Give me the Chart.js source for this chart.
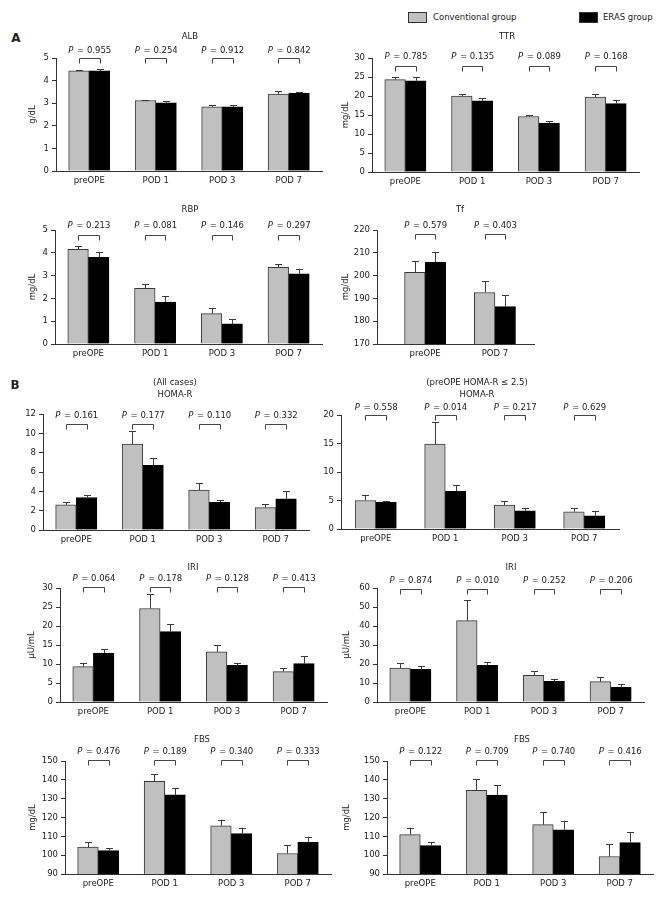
<!DOCTYPE html>
<html>
<head>
<meta charset="utf-8">
<script src="https://cdn.jsdelivr.net/npm/chart.js@4.4.1/dist/chart.umd.min.js"></script>
<style>
  body { margin: 0; background: #fff; }
  #page { position: relative; width: 668px; height: 900px; font-family: "DejaVu Sans", sans-serif; color: #222; }
  #page canvas { position: absolute; z-index: 1; }
  .txt { position: absolute; z-index: 2; transform: translate(-50%, -50%); white-space: nowrap; font-size: 8.5px; color: #222; }
  .tag { position: absolute; z-index: 2; transform: translate(-50%, -50%); font-size: 12px; font-weight: bold; }
  .key { position: absolute; width: 17px; height: 9px; border: 1px solid #333; }
  .keytxt { position: absolute; font-size: 8.5px; transform: translateY(-50%); white-space: nowrap; }
</style>
</head>
<body>
<div id="page">
  <div class="tag" style="left:16px;top:38px">A</div>
  <div class="tag" style="left:15px;top:385px">B</div>
  <div class="key" style="left:408px;top:12px;background:#c0c0c0"></div>
  <div class="keytxt" style="left:433px;top:17px">Conventional group</div>
  <div class="key" style="left:579px;top:12px;background:#000"></div>
  <div class="keytxt" style="left:603px;top:17px">ERAS group</div>
</div>
<script>
const timepoints = ['preOPE', 'POD 1', 'POD 3', 'POD 7'];
const tfTimepoints = ['preOPE', 'POD 7'];

// A: nutrition markers (mean, SE)
const albConv = [4.43, 3.12, 2.84, 3.40];
const albConvErr = [0.02, 0.03, 0.10, 0.12];
const albEras = [4.43, 3.02, 2.84, 3.45];
const albErasErr = [0.07, 0.07, 0.10, 0.05];
const albP = ['0.955', '0.254', '0.912', '0.842'];

const ttrConv = [24.3, 20.0, 14.6, 19.7];
const ttrConvErr = [0.6, 0.5, 0.5, 0.7];
const ttrEras = [24.0, 18.7, 12.9, 18.0];
const ttrErasErr = [0.9, 0.7, 0.6, 1.0];
const ttrP = ['0.785', '0.135', '0.089', '0.168'];

const rbpConv = [4.15, 2.44, 1.33, 3.36];
const rbpConvErr = [0.16, 0.20, 0.23, 0.17];
const rbpEras = [3.80, 1.84, 0.88, 3.08];
const rbpErasErr = [0.22, 0.28, 0.20, 0.19];
const rbpP = ['0.213', '0.081', '0.146', '0.297'];

const tfConv = [201.4, 192.6];
const tfConvErr = [4.9, 5.1];
const tfEras = [205.8, 186.4];
const tfErasErr = [4.4, 5.1];
const tfP = ['0.579', '0.403'];

// B: glucose metabolism, all cases / preOPE HOMA-R <= 2.5
const homaAllConv = [2.60, 8.90, 4.12, 2.32];
const homaAllConvErr = [0.27, 1.38, 0.72, 0.41];
const homaAllEras = [3.36, 6.68, 2.87, 3.22];
const homaAllErasErr = [0.27, 0.76, 0.24, 0.86];
const homaAllP = ['0.161', '0.177', '0.110', '0.332'];

const homaLowConv = [5.0, 14.9, 4.2, 3.03];
const homaLowConvErr = [0.9, 3.9, 0.64, 0.64];
const homaLowEras = [4.66, 6.6, 3.2, 2.33];
const homaLowErasErr = [0.34, 1.15, 0.47, 0.87];
const homaLowP = ['0.558', '0.014', '0.217', '0.629'];

const iriAllConv = [9.3, 24.6, 13.2, 8.0];
const iriAllConvErr = [1.05, 3.7, 1.9, 0.95];
const iriAllEras = [12.9, 18.5, 9.65, 10.1];
const iriAllErasErr = [1.1, 2.0, 0.7, 2.1];
const iriAllP = ['0.064', '0.178', '0.128', '0.413'];

const iriLowConv = [17.9, 42.8, 14.0, 10.7];
const iriLowConvErr = [2.8, 10.7, 2.1, 2.6];
const iriLowEras = [17.2, 19.3, 10.9, 7.7];
const iriLowErasErr = [1.9, 1.6, 1.0, 1.6];
const iriLowP = ['0.874', '0.010', '0.252', '0.206'];

const fbsAllConv = [104.3, 139.2, 115.6, 100.9];
const fbsAllConvErr = [2.5, 3.9, 3.3, 4.3];
const fbsAllEras = [102.4, 132.0, 111.4, 106.8];
const fbsAllErasErr = [1.4, 3.9, 3.1, 3.1];
const fbsAllP = ['0.476', '0.189', '0.340', '0.333'];

const fbsLowConv = [110.9, 134.4, 116.2, 99.3];
const fbsLowConvErr = [3.7, 5.8, 6.6, 6.5];
const fbsLowEras = [105.1, 131.9, 113.5, 106.7];
const fbsLowErasErr = [1.9, 5.1, 4.7, 5.6];
const fbsLowP = ['0.122', '0.709', '0.740', '0.416'];

const FONT = '"DejaVu Sans", sans-serif';
const FS = 8.5;
const INK = '#222';
const AXIS = '#333';

// box = plot area [left, top, right, bottom] on the page
const panels = [
  { title: [['ALB', 190, 36]], unit: 'g/dL', unitX: 33, cats: timepoints,
    conv: albConv, convErr: albConvErr, eras: albEras, erasErr: albErasErr, p: albP,
    yMin: 0, yMax: 5, yStep: 1, box: [56, 58, 322, 171], xRange: [-0.5, 3.5], pY: 51, brY: 58 },
  { title: [['TTR', 507, 36]], unit: 'mg/dL', unitX: 346, cats: timepoints,
    conv: ttrConv, convErr: ttrConvErr, eras: ttrEras, erasErr: ttrErasErr, p: ttrP,
    yMin: 0, yMax: 30, yStep: 5, box: [372, 58, 639, 172], xRange: [-0.5, 3.5], pY: 57, brY: 66 },
  { title: [['RBP', 190, 209]], unit: 'mg/dL', unitX: 33, cats: timepoints,
    conv: rbpConv, convErr: rbpConvErr, eras: rbpEras, erasErr: rbpErasErr, p: rbpP,
    yMin: 0, yMax: 5, yStep: 1, box: [55, 230, 322, 344], xRange: [-0.5, 3.5], pY: 226, brY: 235 },
  { title: [['Tf', 460, 209]], unit: 'mg/dL', unitX: 346, cats: tfTimepoints,
    conv: tfConv, convErr: tfConvErr, eras: tfEras, erasErr: tfErasErr, p: tfP,
    yMin: 170, yMax: 220, yStep: 10, box: [377, 230, 534, 344], xRange: [-0.69, 1.56], pY: 226, brY: 234 },
  { title: [['(All cases)', 175, 382], ['HOMA-R', 175, 394]], unit: '', cats: timepoints,
    conv: homaAllConv, convErr: homaAllConvErr, eras: homaAllEras, erasErr: homaAllErasErr, p: homaAllP,
    yMin: 0, yMax: 12, yStep: 2, box: [43, 414, 309, 530], xRange: [-0.5, 3.5], pY: 416, brY: 424 },
  { title: [['(preOPE HOMA-R \u2264 2.5)', 477, 382], ['HOMA-R', 477, 394]], unit: '', cats: timepoints,
    conv: homaLowConv, convErr: homaLowConvErr, eras: homaLowEras, erasErr: homaLowErasErr, p: homaLowP,
    yMin: 0, yMax: 20, yStep: 5, box: [341, 415, 619, 529], xRange: [-0.5, 3.5], pY: 408, brY: 415 },
  { title: [['IRI', 193, 567]], unit: '\u03bcU/mL', unitX: 32, cats: timepoints,
    conv: iriAllConv, convErr: iriAllConvErr, eras: iriAllEras, erasErr: iriAllErasErr, p: iriAllP,
    yMin: 0, yMax: 30, yStep: 5, box: [60, 588, 327, 702], xRange: [-0.5, 3.5], pY: 579, brY: 587 },
  { title: [['IRI', 511, 567]], unit: '\u03bcU/mL', unitX: 347, cats: timepoints,
    conv: iriLowConv, convErr: iriLowConvErr, eras: iriLowEras, erasErr: iriLowErasErr, p: iriLowP,
    yMin: 0, yMax: 60, yStep: 10, box: [377, 588, 644, 702], xRange: [-0.5, 3.5], pY: 581, brY: 589 },
  { title: [['FBS', 202, 739]], unit: 'mg/dL', unitX: 33, cats: timepoints,
    conv: fbsAllConv, convErr: fbsAllConvErr, eras: fbsAllEras, erasErr: fbsAllErasErr, p: fbsAllP,
    yMin: 90, yMax: 150, yStep: 10, box: [65, 761, 331, 874], xRange: [-0.5, 3.5], pY: 752, brY: 760 },
  { title: [['FBS', 522, 739]], unit: 'mg/dL', unitX: 347, cats: timepoints,
    conv: fbsLowConv, convErr: fbsLowConvErr, eras: fbsLowEras, erasErr: fbsLowErasErr, p: fbsLowP,
    yMin: 90, yMax: 150, yStep: 10, box: [387, 761, 653, 874], xRange: [-0.5, 3.5], pY: 752, brY: 760 }
];

const errorBars = {
  id: 'errorBars',
  afterDatasetsDraw(chart) {
    const ctx = chart.ctx;
    const ys = chart.scales.y;
    ctx.save();
    ctx.strokeStyle = '#3a3a3a';
    ctx.lineWidth = 1;
    chart.data.datasets.forEach((ds, di) => {
      chart.getDatasetMeta(di).data.forEach((bar, i) => {
        const top = Math.round(ys.getPixelForValue(ds.data[i].y + ds.err[i])) + 0.5;
        const x = Math.round(bar.x) + 0.5;
        ctx.beginPath();
        ctx.moveTo(x, bar.y);
        ctx.lineTo(x, top);
        ctx.moveTo(x - 3.5, top);
        ctx.lineTo(x + 3.5, top);
        ctx.stroke();
      });
    });
    ctx.restore();
  }
};

const pBrackets = {
  id: 'pBrackets',
  afterDraw(chart, args, opts) {
    const ctx = chart.ctx;
    const a = chart.getDatasetMeta(0).data;
    const b = chart.getDatasetMeta(1).data;
    ctx.save();
    opts.values.forEach((p, i) => {
      const x0 = Math.round(a[i].x) + 0.5;
      const x1 = Math.round(b[i].x) + 0.5;
      const by = Math.round(opts.bracketY) + 0.5;
      ctx.strokeStyle = '#444';
      ctx.lineWidth = 1;
      ctx.beginPath();
      ctx.moveTo(x0, by + 5);
      ctx.lineTo(x0, by);
      ctx.lineTo(x1, by);
      ctx.lineTo(x1, by + 5);
      ctx.stroke();

      const cx = (a[i].x + b[i].x) / 2;
      const rest = ' = ' + p;
      ctx.font = 'italic ' + FS + 'px ' + FONT;
      const wP = ctx.measureText('P').width;
      ctx.font = FS + 'px ' + FONT;
      const wR = ctx.measureText(rest).width;
      const sx = cx - (wP + wR) / 2;
      ctx.fillStyle = INK;
      ctx.textBaseline = 'middle';
      ctx.textAlign = 'left';
      ctx.font = 'italic ' + FS + 'px ' + FONT;
      ctx.fillText('P', sx, opts.textY);
      ctx.font = FS + 'px ' + FONT;
      ctx.fillText(rest, sx + wP + 1, opts.textY);
    });
    ctx.restore();
  }
};

const page = document.getElementById('page');

panels.forEach(pn => {
  const [L, T, R, B] = pn.box;
  const padTop = 30, padRight = 10, xH = 22;
  const cx = pn.unit ? Math.round(pn.unitX - 9.4) : L - 36;
  const yW = L - cx;
  const cy = T - padTop;
  const w = R + padRight - cx;
  const h = B + xH - cy;

  pn.title.forEach(([text, x, y]) => {
    const d = document.createElement('div');
    d.className = 'txt';
    d.style.left = x + 'px';
    d.style.top = y + 'px';
    d.textContent = text;
    page.appendChild(d);
  });

  const canvas = document.createElement('canvas');
  canvas.width = w;
  canvas.height = h;
  canvas.style.left = cx + 'px';
  canvas.style.top = cy + 'px';
  page.appendChild(canvas);

  const font = { family: FONT, size: FS };
  const barW = 20.6;

  new Chart(canvas.getContext('2d'), {
    type: 'bar',
    data: {
      datasets: [
        {
          label: 'Conventional group',
          data: pn.conv.map((v, i) => ({ x: i, y: v })),
          err: pn.convErr,
          backgroundColor: '#c0c0c0',
          borderColor: '#3a3a3a',
          borderWidth: 1,
          barThickness: barW
        },
        {
          label: 'ERAS group',
          data: pn.eras.map((v, i) => ({ x: i, y: v })),
          err: pn.erasErr,
          backgroundColor: '#000',
          borderColor: '#000',
          borderWidth: 1,
          barThickness: barW
        }
      ]
    },
    options: {
      responsive: false,
      animation: false,
      layout: { padding: { top: padTop, right: padRight, left: 0, bottom: 0 } },
      plugins: {
        legend: { display: false },
        tooltip: { enabled: false },
        pBrackets: { values: pn.p, textY: pn.pY - cy, bracketY: pn.brY - cy }
      },
      scales: {
        x: {
          type: 'linear',
          offset: false,
          min: pn.xRange[0],
          max: pn.xRange[1],
          grid: { display: false, drawTicks: false },
          border: { display: true, color: AXIS, width: 1 },
          ticks: { padding: 5, font, color: INK, maxRotation: 0, callback: v => pn.cats[v] ?? '' },
          afterBuildTicks: s => { s.ticks = pn.cats.map((c, i) => ({ value: i })); },
          afterFit: s => { s.height = xH; }
        },
        y: {
          min: pn.yMin,
          max: pn.yMax,
          ticks: { stepSize: pn.yStep, padding: 3, font, color: INK },
          grid: { drawOnChartArea: false, drawTicks: true, tickLength: 4, color: AXIS },
          border: { display: true, color: AXIS, width: 1 },
          title: { display: !!pn.unit, text: pn.unit, font, color: INK, padding: { top: 4, bottom: 4 } },
          afterFit: s => { s.width = yW; }
        }
      }
    },
    plugins: [errorBars, pBrackets]
  });
});
</script>
</body>
</html>
